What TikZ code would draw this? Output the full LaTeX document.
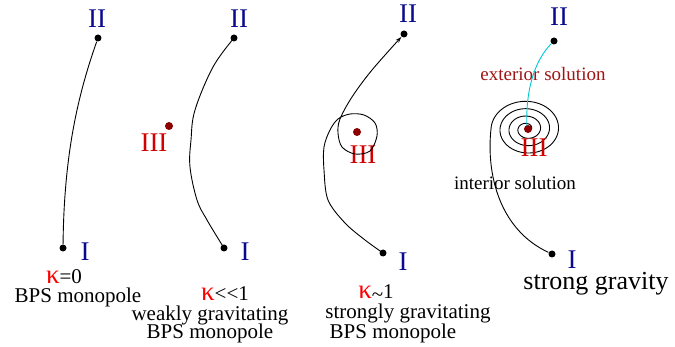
\documentclass[tikz,border=0pt]{standalone}
\usepackage{fontspec}
\setmainfont{Liberation Serif}
\usetikzlibrary{arrows.meta}
\definecolor{navy}{RGB}{10,10,140}
\definecolor{lred}{RGB}{210,0,0}
\definecolor{dred}{RGB}{140,0,0}
\definecolor{xred}{RGB}{160,20,20}
\definecolor{turq}{RGB}{0,200,210}
\newcommand{\kap}{\textcolor{red}{\fontsize{27}{27}\selectfont κ}}

\begin{document}
\begin{tikzpicture}[
  x=1pt, y=-1pt, line width=0.9pt,  dot/.style={circle,fill=black,inner sep=0pt,minimum size=7pt},  rdot/.style={circle,fill=dred,inner sep=0pt,minimum size=8pt},  lab/.style={text=navy,font=\fontsize{27}{27}\selectfont,inner sep=0pt},  rlab/.style={text=lred,font=\fontsize{27}{27}\selectfont,inner sep=0pt},  txt/.style={font=\fontsize{21}{21}\selectfont,inner sep=0pt}
]
  \useasboundingbox (0,0) rectangle (675,347);
  % panel 1
  \node[dot] (p1top) at (98,38) {};
  \node[dot] (p1bot) at (63,248) {};
  \node[lab] (l1a) at (97,19) {II};
  \node[lab] (l1b) at (85,252) {I};
  \node[txt] (k1) at (64,277) {\kap=0};
  \node[txt] (t1) at (78,297) {BPS monopole};
  % panel 2
  \node[dot] (p2top) at (234,38) {};
  \node[dot] (p2bot) at (224,248) {};
  \node[rdot] (p2mid) at (169,126) {};
  \node[lab] (l2a) at (239,19) {II};
  \node[lab] (l2b) at (245,252) {I};
  \node[rlab] (l2c) at (154,143) {III};
  \node[txt] (k2) at (225,294) {\kap{<}{<}1};
  \node[txt] (t2a) at (210,315) {weakly gravitating};
  \node[txt] (t2b) at (210,333) {BPS monopole};
  % panel 3
  \node[dot] (p3top) at (404,34) {};
  \node[dot] (p3bot) at (383,253) {};
  \node[rdot] (p3mid) at (357,132) {};
  \node[lab] (l3a) at (408,14) {II};
  \node[lab] (l3b) at (403,262) {I};
  \node[rlab] (l3c) at (363,155) {III};
  \node[txt] (k3) at (376,293) {\kap\raisebox{-3pt}{\textasciitilde}1};
  \node[txt] (t3a) at (408,313) {strongly gravitating};
  \node[txt] (t3b) at (393,333) {BPS monopole};
  % panel 4
  \node[dot] (p4top) at (554,41) {};
  \node[dot] (p4bot) at (552,254) {};
  \coordinate (s4) at (491,129);
  \node[lab] (l4a) at (559,17) {II};
  \node[lab] (l4b) at (572,260) {I};
  \node[txt,font=\fontsize{26}{26}\selectfont] (t4) at (596,284) {strong gravity};
  \node[txt,font=\fontsize{19}{19}\selectfont] (t4b) at (515,183) {interior solution};
  \node[txt,font=\fontsize{19}{19}\selectfont,text=xred] (t4a) at (543,74) {exterior solution};
  % curves
  \draw (p1top) .. controls (76,100) and (64,160) .. (p1bot);
  \draw plot[smooth,tension=0.6] coordinates {(p2top) (213,67) (195,110) (191,140) (190,167) (197,200) (207,220) (p2bot)};
  \draw[-{Stealth[length=6pt,width=4pt]},shorten >=4pt] plot[smooth,tension=0.55] coordinates {(p3bot) (365,240) (345,223) (328,200) (324,170) (324,147) (330,130) (338,119) (350,114) (364,115) (375,123) (377,136) (370,151) (355,154) (342,147) (338,133) (340,119) (352,97) (372,70) (p3top)};
  \draw plot[domain=180:1620,samples=300,variable=\t] ({527+(1620-\t)*0.025*cos(\t)},{129+(1620-\t)*0.0205*sin(\t)});
  \draw (p4bot) .. controls (500,230) and (486,175) .. (s4);
  \draw[turq] (p4top) .. controls (535,60) and (525,90) .. (527,129);
  \node[rdot] (p4mid) at (528,129) {};
  \node[rlab] (l4c) at (534,148) {III};
\end{tikzpicture}
\end{document}
